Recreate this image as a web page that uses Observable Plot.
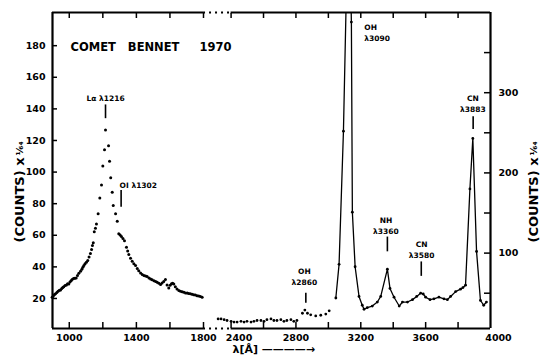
<!DOCTYPE html>
<html><head><meta charset="utf-8">
<script src="https://cdn.jsdelivr.net/npm/d3@7"></script>
<script src="https://cdn.jsdelivr.net/npm/@observablehq/plot@0.6"></script>
<style>
body{margin:0;background:#fff;}
#chart{position:relative;width:544px;height:360px;overflow:hidden;background:#fff;}
#chart svg{position:absolute;top:0;background:transparent;}
</style></head><body><div id="chart"></div>
<script>
// ---- Far-UV channel (left panel), wavelength in Å, counts/64 (left axis)
const uvWavelength = [898,905,912,918,926,933,941,948,955,961,967,975,983,990,997,1004,1011,1017,1025,1033,1041,1049,1057,1067,1075,1081,1087,1094,1102,1110,1118,1126,1133,1138,1143,1149,1156,1162,1172,1182,1192,1200,1210,1216,1234,1240,1247,1256,1262,1276,1286,1295,1303,1311,1320,1329,1341,1348,1355,1365,1375,1385,1395,1405,1414,1425,1435,1445,1455,1464,1475,1485,1494,1505,1515,1524,1534,1544,1553,1563,1573,1583,1593,1601,1609,1616,1623,1632,1642,1653,1663,1673,1683,1693,1703,1712,1722,1732,1742,1752,1762,1772,1782,1792];
const uvCounts = [20.8,21.5,22.5,23,23.8,24.5,25.2,25.4,26.3,27,27.5,28.2,28.6,29.4,29.2,30.4,31.3,32,32.6,32.8,33,34.5,36,37.2,38.5,39.8,40.8,42,43,44,46.2,48.4,51,53.5,55.3,62.3,64.5,67.2,73.6,83.6,91.9,103.9,114.2,126.7,116.7,106.8,96.4,87.2,78.8,73.6,68.9,60.9,60.2,59.3,58,56.6,52.4,50,47.8,45.4,43.5,42,40.8,39,37.6,36.2,35.1,34.6,34.2,33.9,33,32.4,31.8,31.2,30.8,30.2,29.6,28.8,29.8,30.7,32,28.5,26.7,28.3,29.4,29.6,29.2,27.5,26,25,24.5,24.2,23.9,23.5,23.4,23.2,23,22.6,22.4,22.2,21.8,21.5,21.2,20.8];

// ---- Near-UV channel (right panel), counts/64 (right axis)
const nuvWavelength = [2320,2338,2357,2375,2400,2418,2437,2461,2480,2498,2523,2541,2560,2584,2603,2621,2646,2664,2683,2707,2726,2744,2769,2787,2806,2840,2855,2871,2891,2922,2953,2984,3005,3046,3066,3093,3125,3142,3148,3165,3189,3209,3220,3240,3271,3302,3323,3364,3380,3405,3437,3457,3488,3519,3545,3569,3585,3600,3627,3651,3682,3713,3734,3754,3785,3815,3830,3846,3873,3891,3914,3938,3958,3975];
const nuvCounts = [18,18,17,16,15,14,14,15,14,15,14,15,16,16,15,17,18,16,16,17,15,16,17,15,16,25,29,25,23,21.7,22.5,24,28,44,86,252,560,388,151,83,46,35,30,32,34,39,46,80,56,45,34,39,39,42,46,50,49,45,42,43,45,43,42,46,52,55,57,60,180,243,102,41,35,39];
const nuvTraceFrom = 3046; // points from here on are joined by a line

// ---- axes
const uvXDomain = [900, 1800];
const uvYDomain = [1, 201];
const nuvXDomain = [2310, 4000];
const nuvYDomain = [6, 400];
const uvXTicks = [1000, 1200, 1400, 1600, 1800];
const uvXLabels = [1000, 1400, 1800];
const uvYTicks = [20, 40, 60, 80, 100, 120, 140, 160, 180];
const nuvXTicks = [2400, 2600, 2800, 3000, 3200, 3400, 3600, 3800];
const nuvXLabelsInner = [2800, 3200, 3600];
const nuvXLabelsEdge = [2400, 4000];
const nuvYTicks = [50, 100, 150, 200, 250, 300, 350];
const nuvYLabels = [100, 200, 300];
const breakFrom = 2230;

// ---- texts
const titleText = "COMET   BENNET     1970";
const yLabelMain = "(COUNTS) x";
const yLabelFraction = "¹⁄₆₄";
const xLabel = "λ[Å] ————→";

// ---- emission-line annotations
const uvLineNames = ["Lα λ1216", "OI λ1302"];
const uvLineWl = [1216, 1309];
const uvLineTextWl = [1216, 1300];
const uvLineTextAnchor = ["middle", "start"];
const uvLineTextLevel = [146.5, 91.5];
const uvLineTickTop = [142.5, 88.3];
const uvLineTickBottom = [133.8, 77.7];

const nuvLineNames = ["OH\nλ2860", "OH\nλ3090", "NH\nλ3360", "CN\nλ3580", "CN\nλ3883"];
const nuvLineWl = [2861, 3090, 3364, 3573, 3893];
const nuvLineTextWl = [2852, 3222, 3355, 3575, 3891];
const nuvLineTextAnchor = ["middle", "start", "middle", "middle", "middle"];
const nuvLineTextLevel = [60, 364, 124, 94, 276];
const nuvLineTickTop = [50, null, 120, 89, 270];
const nuvLineTickBottom = [37.5, null, 101.6, 71, 254];

const uv = uvWavelength.map((w, i) => ({w, c: uvCounts[i]}));
const nuv = nuvWavelength.map((w, i) => ({w, c: nuvCounts[i]}));
const uvAnn = uvLineNames.map((name, i) => ({name, wl: uvLineWl[i], tx: uvLineTextWl[i], anchor: uvLineTextAnchor[i], lvl: uvLineTextLevel[i], t1: uvLineTickTop[i], t2: uvLineTickBottom[i]}));
const nuvAnn = nuvLineNames.map((name, i) => ({name, wl: nuvLineWl[i], tx: nuvLineTextWl[i], anchor: nuvLineTextAnchor[i], lvl: nuvLineTextLevel[i], t1: nuvLineTickTop[i], t2: nuvLineTickBottom[i]}));

const font = "'DejaVu Sans', sans-serif";
const common = {height: 360, marginTop: 12, marginBottom: 32,
  style: {fontFamily: font, fontSize: "9.5px", fontWeight: "bold", background: "transparent", color: "black"}};

function annText(data, anchor, extra = {}) {
  return Plot.text(data.filter(d => d.anchor === anchor), {x: "tx", y: "lvl", text: "name", textAnchor: anchor, fontSize: 7.5, ...extra});
}
function yTitle(frameAnchor, dx) {
  return [
    Plot.text([yLabelMain], {frameAnchor, dx, dy: 72, rotate: -90, textAnchor: "start", fontSize: 13, text: d => d}),
    Plot.text([yLabelFraction], {frameAnchor, dx, dy: -15, rotate: -90, textAnchor: "start", fontSize: 9.5, text: d => d})
  ];
}

const left = Plot.plot({
  ...common, width: 232, marginLeft: 52, marginRight: 29,
  x: {domain: uvXDomain},
  y: {domain: uvYDomain},
  marks: [
    Plot.ruleX([uvXDomain[0]], {strokeWidth: 2.2}),
    Plot.ruleY(uvYDomain, {strokeWidth: 2.2}),
    Plot.axisY({ticks: uvYTicks, tickSize: -5, tickPadding: 12, label: null, strokeWidth: 1.5}),
    Plot.axisX({ticks: uvXTicks, tickSize: -6, tickPadding: 12, label: null, strokeWidth: 1.5,
      tickFormat: d => uvXLabels.includes(d) ? String(d) : ""}),
    Plot.axisX({anchor: "top", ticks: uvXTicks, tickSize: -5, label: null, strokeWidth: 1.5, tickFormat: () => ""}),
    Plot.dot(uv, {x: "w", y: "c", r: 1.5, fill: "black", stroke: null}),
    Plot.ruleX(uvAnn, {x: "wl", y1: "t1", y2: "t2", strokeWidth: 1.6}),
    annText(uvAnn, "middle"),
    annText(uvAnn, "start"),
    Plot.text([titleText], {frameAnchor: "top-left", dx: 18, dy: 30, textAnchor: "start", fontSize: 11.5, text: d => d}),
    ...yTitle("left", -33)
  ]
});

const right = Plot.plot({
  ...common, width: 344, marginLeft: 16, marginRight: 54,
  x: {domain: nuvXDomain},
  y: {domain: nuvYDomain},
  marks: [
    Plot.ruleX([nuvXDomain[1]], {strokeWidth: 2.2}),
    Plot.ruleY(nuvYDomain, {x1: nuvXTicks[0], x2: nuvXDomain[1], strokeWidth: 2.2}),
    Plot.ruleY(nuvYDomain, {x1: breakFrom, x2: nuvXTicks[0], strokeWidth: 2, strokeDasharray: "2,4"}),
    Plot.axisY({anchor: "right", ticks: nuvYTicks, tickSize: -7, tickPadding: 15, label: null, strokeWidth: 1.5,
      tickFormat: d => nuvYLabels.includes(d) ? String(d) : ""}),
    Plot.axisX({ticks: nuvXTicks, tickSize: -6, tickPadding: 12, label: null, strokeWidth: 1.5,
      tickFormat: d => nuvXLabelsInner.includes(d) ? String(d) : ""}),
    Plot.axisX({ticks: nuvXLabelsEdge, tickSize: 0, tickPadding: 6, dx: 8, label: null, tickFormat: d => String(d)}),
    Plot.axisX({anchor: "top", ticks: nuvXTicks, tickSize: -5, label: null, strokeWidth: 1.5, tickFormat: () => ""}),
    Plot.line(nuv.filter(d => d.w >= nuvTraceFrom), {x: "w", y: "c", strokeWidth: 1.3, clip: true}),
    Plot.dot(nuv, {x: "w", y: "c", r: 1.4, fill: "black", stroke: null, clip: true}),
    Plot.ruleX(nuvAnn.filter(d => d.t1 != null), {x: "wl", y1: "t1", y2: "t2", strokeWidth: 1.6}),
    annText(nuvAnn, "middle", {lineAnchor: "bottom", lineHeight: 1.45}),
    annText(nuvAnn, "start", {lineAnchor: "bottom", lineHeight: 1.45}),
    Plot.text([xLabel], {frameAnchor: "bottom-left", dx: 16, dy: 24, textAnchor: "start", fontSize: 11, text: d => d}),
    ...yTitle("right", 43)
  ]
});

left.style.left = "0px";
right.style.left = "200px";
document.getElementById("chart").append(left, right);
</script>
</body></html>
